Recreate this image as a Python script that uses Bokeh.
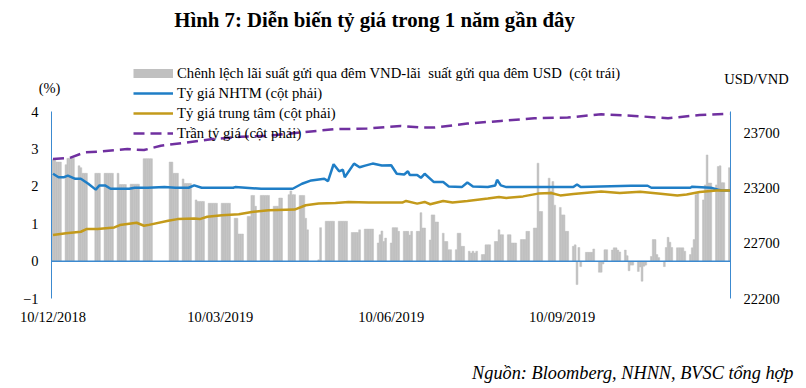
import pandas as pd
from bokeh.plotting import figure
from bokeh.models import (Range1d, LinearAxis, FixedTicker, Label, Legend,
                          LegendItem)
from bokeh.embed import file_html
from bokeh.resources import INLINE

# ---------------- data ----------------
start_date = "2018-12-10"   # first Monday of the series

# Spread of overnight deposit rates VND - USD (%), Mon..Fri of each week
spread_weeks = [
    [2.72, 2.72, 2.65, 2.65, 2.65],
    [2.58, 2.75, 2.75, 2.75, 2.75],
    [2.55, 2.50, 2.35, 2.35, 2.35],
    [None, None, 2.35, 2.35, 2.35],
    [2.35, 2.35, 2.35, 2.35, 2.35],
    [2.35, 2.05, 2.05, 2.05, 2.05],
    [2.06, 2.06, 2.06, 2.06, 2.06],
    [2.74, 2.74, 2.74, 2.74, 2.74],
    [None, None, None, None, None],
    [2.65, 2.65, 2.35, 2.35, 2.35],
    [2.20, 2.08, 2.08, 2.08, 2.08],
    [1.64, 1.60, 1.60, 1.60, 1.60],
    [1.55, 1.55, 1.55, 1.55, 1.55],
    [1.55, 1.55, 1.55, 1.55, 1.55],
    [1.15, 1.15, 0.73, 0.73, 0.73],
    [1.20, 1.20, 1.76, 1.76, 1.47],
    [1.76, 1.76, 1.76, 1.76, 1.76],
    [1.47, 1.47, 1.47, 1.69, 1.69],
    [None, 1.78, 1.88, 1.78, 1.78],
    [1.76, 1.76, 1.76, 1.15, 0.84],
    [None, None, None, 0.04, 0.90],
    [1.07, 1.07, 1.07, 1.07, 1.07],
    [1.07, 1.07, 1.07, 1.07, 1.07],
    [0.77, 0.77, 0.77, 0.77, 0.84],
    [0.86, 0.86, 0.86, 0.86, 0.86],
    [0.49, 0.71, 0.81, 0.53, 0.62],
    [0.49, 0.90, 0.90, 0.90, 0.80],
    [0.80, 0.80, 0.80, 0.70, 0.80],
    [0.80, 0.80, 1.30, 0.89, 0.89],
    [0.57, 1.24, 1.24, 1.05, 1.05],
    [0.75, 0.53, 0.53, 0.31, 0.31],
    [0.31, 0.75, 0.75, 0.40, 0.40],
    [0.27, 0.22, 0.27, 0.22, 0.27],
    [0.18, 0.18, 0.44, 0.44, 0.44],
    [0.53, 0.53, 0.84, 0.71, 0.71],
    [0.71, 0.71, 0.49, 0.49, 0.49],
    [0.58, 0.58, 0.58, 0.80, 0.80],
    [0.89, 0.89, 2.62, 1.33, 1.33],
    [None, 2.22, 1.87, 2.13, 1.50],
    [1.44, 1.24, 1.24, 0.80, 0.80],
    [0.40, 0.44, -0.62, 0.37, -0.14],
    [0.24, 0.24, 0.24, 0.24, 0.33],
    [-0.29, -0.29, -0.07, 0.31, 0.31],
    [0.30, 0.36, 0.36, 0.30, 0.25],
    [0.30, 0.15, -0.25, -0.10, -0.10],
    [-0.27, -0.15, -0.53, -0.13, -0.10],
    [0.13, 0.58, 0.58, 0.18, 0.10],
    [-0.14, 0.37, 0.64, 0.51, 0.37],
    [0.36, 0.36, 0.36, 0.36, 0.27],
    [0.18, 0.36, 0.58, 1.78, 1.82],
    [1.64, 2.04, 2.84, 2.09, 2.09],
    [2.04, 2.53, 2.55, 2.10, 2.10],
    [2.50],
]

# Commercial bank rate (NHTM), right axis; days counted from start_date
nhtm_day = [0, 3, 6, 8, 12, 15, 19, 23, 25, 28, 31, 41, 44, 51, 60, 66, 73, 76, 80,
            97, 98, 112, 129, 134, 139, 146, 148, 151, 154, 156, 157, 162, 165, 168,
            172, 177, 182, 185, 189, 191, 192, 196, 198, 200, 205, 210, 213, 220,
            223, 226, 234, 238, 239, 241, 244, 280, 282, 284, 311, 320, 322, 343,
            344, 354, 358, 360, 364.5]
nhtm_val = [23328, 23297, 23297, 23312, 23283, 23283, 23238, 23185, 23223, 23223,
            23193, 23193, 23202, 23202, 23208, 23202, 23202, 23223, 23202, 23202,
            23208, 23193, 23193, 23238, 23268, 23283, 23262, 23414, 23350, 23365,
            23297, 23420, 23387, 23402, 23420, 23402, 23405, 23328, 23322, 23351,
            23318, 23318, 23292, 23328, 23253, 23253, 23214, 23208, 23250, 23214,
            23208, 23223, 23274, 23223, 23208, 23208, 23232, 23208, 23220, 23220,
            23202, 23202, 23212, 23202, 23184, 23178, 23178]

# Central rate (trung tâm), right axis
central_day = [0, 7, 15, 18, 24, 33, 36, 45, 49, 51, 62, 67, 76, 79, 83, 91, 100, 107,
               116, 130, 136, 143, 152, 159, 170, 179, 188, 190, 196, 200, 203, 210,
               215, 223, 234, 240, 244, 253, 261, 268, 273, 280, 295, 305, 316, 327,
               336, 341, 348, 357, 364.5]
central_val = [22775, 22791, 22805, 22829, 22829, 22844, 22865, 22886, 22859, 22865,
               22904, 22919, 22925, 22919, 22940, 22954, 22963, 22984, 22999, 23005,
               23044, 23059, 23065, 23074, 23068, 23068, 23068, 23083, 23059, 23074,
               23053, 23083, 23068, 23083, 23104, 23118, 23110, 23124, 23149, 23154,
               23133, 23145, 23169, 23154, 23165, 23148, 23133, 23142, 23163, 23178,
               23178]

# Ceiling rate (trần), right axis
ceiling_day = [0, 9, 17, 26, 40, 49, 58, 72, 86, 101, 115, 133, 151, 169, 187, 198,
               205, 223, 241, 259, 277, 295, 313, 331, 348, 364]
ceiling_val = [23462, 23471, 23521, 23530, 23551, 23542, 23581, 23611, 23641, 23662,
               23670, 23700, 23730, 23736, 23760, 23745, 23745, 23781, 23805, 23829,
               23835, 23865, 23850, 23829, 23858, 23870]

x_tick_dates = ["2018-12-10", "2019-03-10", "2019-06-10", "2019-09-10"]
x_tick_labels = ["10/12/2018", "10/03/2019", "10/06/2019", "10/09/2019"]
left_ticks = [-1, 0, 1, 2, 3, 4]
right_ticks = [22200, 22700, 23200, 23700]

series_labels = [
    "Chênh lệch lãi suất gửi qua đêm VND-lãi  suất gửi qua đêm USD  (cột trái)",
    "Tỷ giá NHTM (cột phải)",
    "Tỷ giá trung tâm (cột phải)",
    "Trần tỷ giá (cột phải)",
]
title_text = "Hình 7: Diễn biến tỷ giá trong 1 năm gần đây"
source_text = "Nguồn: Bloomberg, NHNN, BVSC tổng hợp"
left_unit = "(%)"
right_unit = "USD/VND"

# ---------------- layout ----------------
W, H = 800, 386
# pixel box (from top-left) occupied by the data area, axes drawn on its edges
BOX_L, BOX_R, BOX_T, BOX_B = 51.0, 730.0, 111.0, 298.3
X_LO, X_HI = -0.8, 364.6
YL_LO, YL_HI = -1.0, 4.0
YR_LO, YR_HI = 22200.0, 23890.0


def ext_x(lo, hi):
    k = (BOX_R - BOX_L) / (hi - lo)
    return lo - BOX_L / k, hi + (W - BOX_R) / k


def ext_y(lo, hi):
    k = (BOX_B - BOX_T) / (hi - lo)
    return lo - (H - BOX_B) / k, hi + BOX_T / k


def sx(px):          # page x -> frame screen x
    return px


def sy(py):          # page y -> frame screen y (from bottom)
    return H - py


# ---------------- build ----------------
t0 = pd.Timestamp(start_date)
bar_x, bar_top = [], []
for w, week in enumerate(spread_weeks):
    for d, v in enumerate(week):
        if v is not None:
            bar_x.append(7 * w + d)
            bar_top.append(v)
tick_days = [(pd.Timestamp(s) - t0).days for s in x_tick_dates]

FONT = "Liberation Serif"
GRAY = "#C0C0C0"
BLUE = "#1F7EC6"
AXBLUE = "#3C8AD0"
GOLD = "#C39A1B"
PURPLE = "#7030A0"

xs, xe = ext_x(X_LO, X_HI)
ys, ye = ext_y(YL_LO, YL_HI)
rs, re_ = ext_y(YR_LO, YR_HI)

p = figure(width=W, height=H, output_backend="svg", toolbar_location=None,
           x_range=Range1d(xs, xe), y_range=Range1d(ys, ye),
           x_axis_location=None, y_axis_location=None,
           min_border=0, outline_line_color=None)
p.extra_y_ranges = {"fx": Range1d(rs, re_)}
p.xgrid.visible = False
p.ygrid.visible = False


def style_axis(ax, standoff):
    ax.major_tick_line_color = None
    ax.minor_tick_line_color = None
    ax.major_tick_out = 0
    ax.major_tick_in = 0
    ax.minor_tick_out = 0
    ax.major_label_text_font = FONT
    ax.major_label_text_font_size = "14.5px"
    ax.major_label_text_color = "black"
    ax.major_label_standoff = standoff


la = LinearAxis(ticker=FixedTicker(ticks=left_ticks), fixed_location=X_LO,
                bounds=(YL_LO, YL_HI), axis_line_color=AXBLUE)
style_axis(la, 13)
p.add_layout(la, "left")

ra = LinearAxis(y_range_name="fx", ticker=FixedTicker(ticks=right_ticks),
                fixed_location=X_HI, bounds=(YR_LO, YR_HI), axis_line_color=AXBLUE)
style_axis(ra, 13)
p.add_layout(ra, "right")

xa = LinearAxis(ticker=FixedTicker(ticks=tick_days), fixed_location=YL_LO,
                bounds=(X_LO, X_HI), axis_line_color=None,
                major_label_overrides={d: lab for d, lab in zip(tick_days, x_tick_labels)})
style_axis(xa, 10)
p.add_layout(xa, "below")

# glyphs
p.vbar(x=bar_x, top=bar_top, width=1.0, fill_color=GRAY, line_color=GRAY,
       line_width=0.5)
p.segment(x0=[X_LO], x1=[X_HI], y0=[0], y1=[0], line_color=AXBLUE, line_width=1.5)
r_nhtm = p.line(nhtm_day, nhtm_val, y_range_name="fx", line_color=BLUE, line_width=2.5)
r_central = p.line(central_day, central_val, y_range_name="fx", line_color=GOLD,
                   line_width=2.5)
r_ceiling = p.line(ceiling_day, ceiling_val, y_range_name="fx", line_color=PURPLE,
                   line_width=2.5, line_dash="11 6")
# legend key for the bar series (a thick gray stroke, no visible points)
r_bar_key = p.line(x=[float("nan"), float("nan")], y=[float("nan"), float("nan")],
                   line_color=GRAY, line_width=9, line_cap="butt")

legend = Legend(items=[LegendItem(label=series_labels[0], renderers=[r_bar_key]),
                       LegendItem(label=series_labels[1], renderers=[r_nhtm]),
                       LegendItem(label=series_labels[2], renderers=[r_central]),
                       LegendItem(label=series_labels[3], renderers=[r_ceiling])],
                location=(sx(133), sy(143)), orientation="vertical",
                glyph_width=40, glyph_height=20, label_height=20, label_standoff=4,
                spacing=0, padding=0, margin=0, border_line_color=None,
                background_fill_alpha=0, label_text_font=FONT,
                label_text_font_size="14.7px", label_text_color="black")
p.add_layout(legend)

# texts (screen units relative to the plot frame, origin bottom-left)
p.add_layout(Label(x=sx(374), y=sy(19), x_units="screen", y_units="screen",
                   text=title_text, text_font=FONT, text_font_style="bold",
                   text_font_size="20.8px", text_align="center", text_baseline="middle",
                   text_color="black"))
p.add_layout(Label(x=sx(49), y=sy(87), x_units="screen", y_units="screen",
                   text=left_unit, text_font=FONT, text_font_size="14.5px",
                   text_align="center", text_baseline="middle", text_color="black"))
p.add_layout(Label(x=sx(756), y=sy(78), x_units="screen", y_units="screen",
                   text=right_unit, text_font=FONT, text_font_size="14.5px",
                   text_align="center", text_baseline="middle", text_color="black"))
p.add_layout(Label(x=sx(793), y=sy(372), x_units="screen", y_units="screen",
                   text=source_text, text_font=FONT, text_font_style="italic",
                   text_font_size="18.3px", text_align="right", text_baseline="middle",
                   text_color="black"))

open("out.html", "w").write(file_html(p, INLINE))
